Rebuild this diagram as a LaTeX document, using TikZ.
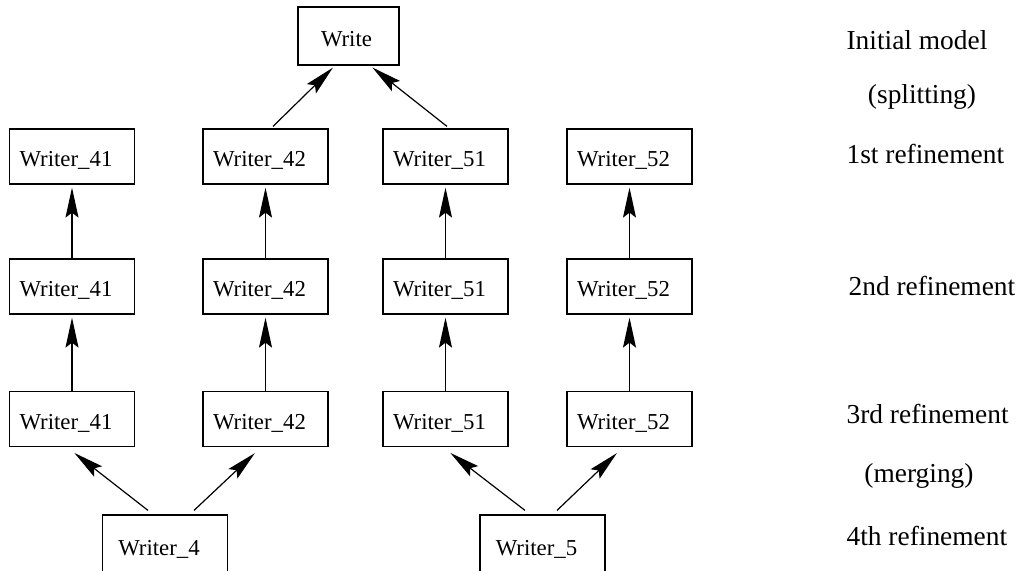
\documentclass[tikz,border=0pt]{standalone}
\usepackage{fontspec}
\setmainfont{Liberation Serif}
\usetikzlibrary{arrows.meta}
\begin{document}
\begin{tikzpicture}[x=0.5pt,y=-0.5pt,line width=0.6pt,>={Stealth[length=15pt,width=6.5pt,inset=2.5pt]},
        box/.style={draw,rectangle,minimum width=62.5pt,minimum height=27.5pt,inner sep=0pt,text height=10pt,text depth=0pt,font=\fontsize{11.4}{13}\selectfont,execute at end node={\hspace*{6pt}}},
        stage/.style={anchor=base west,inner sep=0pt,font=\fontsize{13.7}{16}\selectfont},
        how/.style={anchor=base,inner sep=0pt,font=\fontsize{13.7}{16}\selectfont},
        up/.style={->,shorten >=1.5pt}]
                \useasboundingbox (0,0) rectangle (1029,570);
                % boxes
                \node[box,minimum width=50.5pt,minimum height=29pt,execute at begin node={\hspace*{4pt}}] (write) at (348.5,36){Write};
                \node[box] (w41a) at (72,156.5){Writer\_41};
                \node[box] (w42a) at (265.5,156.5){Writer\_42};
                \node[box] (w51a) at (445.5,156.5){Writer\_51};
                \node[box] (w52a) at (629.5,156.5){Writer\_52};
                \node[box] (w41b) at (72,286.5){Writer\_41};
                \node[box] (w42b) at (265.5,286.5){Writer\_42};
                \node[box] (w51b) at (445.5,286.5){Writer\_51};
                \node[box] (w52b) at (629.5,286.5){Writer\_52};
                \node[box] (w41c) at (72,419){Writer\_41};
                \node[box] (w42c) at (265.5,419){Writer\_42};
                \node[box] (w51c) at (445.5,419){Writer\_51};
                \node[box] (w52c) at (629.5,419){Writer\_52};
                \node[box,minimum height=30pt] (w4) at (165,545){Writer\_4};
                \node[box,minimum height=30pt] (w5) at (542.5,545){Writer\_5};
                % splitting
                \draw[up] ([xshift=3.75pt,yshift=1pt]w42a.north)--([xshift=-6.75pt]write.south);
                \draw[up] ([xshift=0.75pt,yshift=1pt]w51a.north)--([xshift=10.75pt]write.south);
                % refinements
                \draw[up] (w41b.north)--(w41a.south);
                \draw[up] (w42b.north)--(w42a.south);
                \draw[up] (w51b.north)--(w51a.south);
                \draw[up] (w52b.north)--(w52a.south);
                \draw[up] (w41c.north)--(w41b.south);
                \draw[up] (w42c.north)--(w42b.south);
                \draw[up] (w51c.north)--(w51b.south);
                \draw[up] (w52c.north)--(w52b.south);
                % merging
                \draw[up] ([xshift=-8.5pt,yshift=2pt]w4.north)--([yshift=-2pt]w41c.south);
                \draw[up] ([xshift=14.5pt,yshift=2pt]w4.north)--([xshift=-4.25pt,yshift=-2pt]w42c.south);
                \draw[up] ([xshift=-8.75pt,yshift=2pt]w5.north)--([xshift=1.25pt,yshift=-2pt]w51c.south);
                \draw[up] ([xshift=7.25pt,yshift=2pt]w5.north)--([xshift=-5.25pt,yshift=-2pt]w52c.south);
                % stages
                \node[stage] (init) at (846,49){Initial model};
                \node[how] (split) at (922,103){(splitting)};
                \node[stage] (ref1) at (846,163){1st refinement};
                \node[stage] (ref2) at (848,295){2nd refinement};
                \node[stage] (ref3) at (846,423){3rd refinement};
                \node[how] (merge) at (919,482){(merging)};
                \node[stage] (ref4) at (846,545){4th refinement};
            \end{tikzpicture}
\end{document}
